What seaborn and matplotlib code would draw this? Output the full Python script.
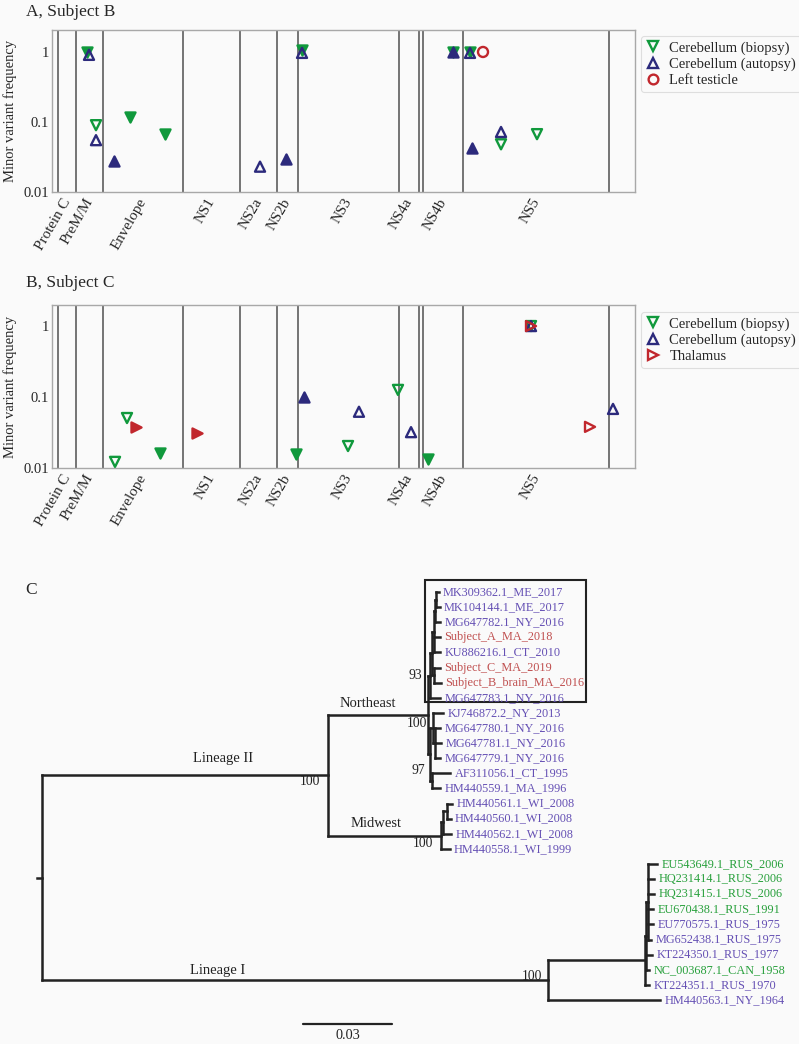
import matplotlib
matplotlib.use("Agg")
import matplotlib.pyplot as plt
import seaborn as sns
import pandas as pd
from matplotlib.lines import Line2D
from matplotlib.patches import Rectangle
from matplotlib.collections import LineCollection
from matplotlib.ticker import FixedLocator, NullLocator

sns.set_theme(style="white")
plt.rcParams["font.family"] = ["Liberation Serif", "DejaVu Serif"]

bg = "#fafafa"
green = "#10993c"
navy = "#2c2a7c"
red = "#c1272d"

# genome map (nt)
gene_names = ["Protein C", "PreM/M", "Envelope", "NS1", "NS2a", "NS2b", "NS3", "NS4a", "NS4b", "NS5"]
gene_starts = [110, 460, 965, 2470, 3545, 4245, 4640, 6545, 7000, 7755]
gene_ends = [460, 965, 2470, 3545, 4245, 4640, 6545, 6925, 7755, 10510]
boundaries = [110, 460, 965, 2470, 3545, 4245, 4640, 6545, 6925, 7000, 7755, 10510]
genome_len = 11000

# A, Subject B
b_bio_pos = [660, 830, 1472, 2132, 4717, 7566, 7887, 8472, 9151]
b_bio_freq = [1.0, 0.09, 0.118, 0.067, 1.06, 1.0, 1.0, 0.048, 0.067]
b_bio_filled = [1, 0, 1, 1, 1, 1, 1, 0, 0]
b_aut_pos = [698, 830, 1170, 3925, 4415, 4717, 7566, 7887, 7925, 8472]
b_aut_freq = [0.91, 0.055, 0.028, 0.023, 0.030, 0.97, 1.0, 0.97, 0.042, 0.072]
b_aut_filled = [0, 0, 1, 0, 1, 0, 1, 0, 1, 0]
b_tes_pos = [8132]
b_tes_freq = [1.0]
b_tes_filled = [0]

# B, Subject C
c_bio_pos = [1189, 1415, 2038, 4604, 5585, 6528, 7094, 9038]
c_bio_freq = [0.0122, 0.0506, 0.0163, 0.016, 0.0204, 0.126, 0.0134, 1.0]
c_bio_filled = [0, 0, 1, 1, 0, 0, 1, 0]
c_aut_pos = [4755, 5792, 6774, 9038, 10585]
c_aut_freq = [0.1, 0.062, 0.032, 1.0, 0.068]
c_aut_filled = [1, 0, 0, 0, 0]
c_thal_pos = [1585, 2736, 9038, 10151]
c_thal_freq = [0.038, 0.031, 1.0, 0.038]
c_thal_filled = [1, 1, 0, 0]

# C, tree
newick = (
    "((((((((MK309362.1_ME_2017:0.0010,MK104144.1_ME_2017:0.0013):0.0003,"
    "MG647782.1_NY_2016:0.0017):0.0003,Subject_A_MA_2018:0.0020,KU886216.1_CT_2010:0.0020):0.0007,"
    "(Subject_C_MA_2019:0.0020,Subject_B_brain_MA_2016:0.0024):0.0007):0.0007,"
    "MG647783.1_NY_2016:0.0034)93:0.0007,"
    "((KJ746872.2_NY_2013:0.0034,(MG647780.1_NY_2016:0.0017,MG647781.1_NY_2016:0.0020,"
    "MG647779.1_NY_2016:0.0017):0.0007):0.0010,"
    "(AF311056.1_CT_1995:0.0061,HM440559.1_MA_1996:0.0027):0.0007)97:0.0007)100:0.0337,"
    "(((HM440561.1_WI_2008:0.0017,HM440560.1_WI_2008:0.0013):0.0013,HM440562.1_WI_2008:0.0027):0.0007,"
    "HM440558.1_WI_1999:0.0030)100:0.0381)100:0.0964,"
    "((((EU543649.1_RUS_2006:0.0030,HQ231414.1_RUS_2006:0.0020,HQ231415.1_RUS_2006:0.0020,"
    "EU670438.1_RUS_1991:0.0017,EU770575.1_RUS_1975:0.0017,MG652438.1_RUS_1975:0.0010):0.0007,"
    "KT224350.1_RUS_1977:0.0020,NC_003687.1_CAN_1958:0.0010):0.0003,KT224351.1_RUS_1970:0.0013):0.0327,"
    "HM440563.1_NY_1964:0.0377)100:0.1706):0.0017;"
)
subject_tips = ["Subject_A_MA_2018", "Subject_C_MA_2019", "Subject_B_brain_MA_2016"]
green_tips = ["EU543649.1_RUS_2006", "HQ231414.1_RUS_2006", "HQ231415.1_RUS_2006",
              "EU670438.1_RUS_1991", "NC_003687.1_CAN_1958"]
clade_names = ["Lineage II", "Northeast", "Midwest", "Lineage I"]
scale_len = 0.03
label_nudge = 115  # gene labels sit a little right of the gene centre


def variant_panel(ax, series, legend_top, ylim_top):
    for pos, freq, filled, label, marker, color in series:
        df = pd.DataFrame({"pos": pos, "freq": freq, "filled": filled})
        for is_filled, sub in df.groupby("filled"):
            sns.scatterplot(data=sub, x="pos", y="freq", ax=ax, marker=marker, s=52,
                            color=color, facecolor=color if is_filled else "none",
                            edgecolor=color, linewidth=1.7, legend=False, zorder=3)
    for b in boundaries:
        ax.axvline(b, color="#505050", lw=1.1, zorder=1)
    ax.set_yscale("log")
    ax.set_ylim(0.01, ylim_top)
    ax.set_xlim(0, genome_len)
    ax.yaxis.set_major_locator(FixedLocator([0.01, 0.1, 1]))
    ax.set_yticklabels(["0.01", "0.1", "1"])
    ax.yaxis.set_minor_locator(NullLocator())
    mids = [(s + e) / 2 + label_nudge for s, e in zip(gene_starts, gene_ends)]
    ax.set_xticks(mids)
    ax.set_xticklabels(gene_names, rotation=60, ha="right", rotation_mode="default")
    ax.tick_params(axis="y", length=0, pad=2, labelsize=10.5)
    ax.tick_params(axis="x", length=0, pad=3, labelsize=10.8)
    ax.set_xlabel("")
    ax.set_ylabel("Minor variant frequency", fontsize=10.5, labelpad=5)
    ax.set_facecolor(bg)
    for sp in ax.spines.values():
        sp.set_color("#a8a8a8")
        sp.set_linewidth(1.0)
    handles = [Line2D([], [], ls="none", marker=m, ms=7, mfc="none", mec=c, mew=1.7, label=l)
               for _, _, _, l, m, c in series]
    leg = ax.legend(handles=handles, loc="upper left", bbox_to_anchor=(1.01, legend_top),
                    borderaxespad=0, fontsize=10.5, handlelength=1.0, handletextpad=0.6,
                    labelspacing=0.2, borderpad=0.35, frameon=True)
    leg.get_frame().set_edgecolor("#d8d8d8")
    leg.get_frame().set_facecolor(bg)
    leg.get_frame().set_linewidth(0.8)


def parse_newick(s):
    i = 0

    def node():
        nonlocal i
        n = {"children": [], "name": "", "len": 0.0}
        if s[i] == "(":
            i += 1
            while True:
                n["children"].append(node())
                if s[i] == ",":
                    i += 1
                    continue
                i += 1
                break
        j = i
        while s[i] not in ",():;":
            i += 1
        n["name"] = s[j:i]
        if s[i] == ":":
            i += 1
            j = i
            while s[i] not in ",();":
                i += 1
            n["len"] = float(s[j:i])
        return n

    return node()


tips = []


def layout(n, x0):
    n["x"] = x0 + n["len"]
    n["px"] = x0
    if not n["children"]:
        n["y"] = len(tips)
        tips.append(n)
    else:
        for ch in n["children"]:
            layout(ch, n["x"])
        n["y"] = (n["children"][0]["y"] + n["children"][-1]["y"]) / 2


def walk(n):
    yield n
    for ch in n["children"]:
        yield from walk(ch)


fig = plt.figure(figsize=(7.99, 10.44), dpi=100, facecolor=bg)
ax_a = fig.add_axes([52 / 799, 1 - 192 / 1044, 583 / 799, 162 / 1044])
ax_b = fig.add_axes([52 / 799, 1 - 468 / 1044, 583 / 799, 163 / 1044])
ax_c = fig.add_axes([0, 0, 1, 484 / 1044])

variant_panel(ax_a, [
    (b_bio_pos, b_bio_freq, b_bio_filled, "Cerebellum (biopsy)", "v", green),
    (b_aut_pos, b_aut_freq, b_aut_filled, "Cerebellum (autopsy)", "^", navy),
    (b_tes_pos, b_tes_freq, b_tes_filled, "Left testicle", "o", red),
], 0.963, 2.06)
variant_panel(ax_b, [
    (c_bio_pos, c_bio_freq, c_bio_filled, "Cerebellum (biopsy)", "v", green),
    (c_aut_pos, c_aut_freq, c_aut_filled, "Cerebellum (autopsy)", "^", navy),
    (c_thal_pos, c_thal_freq, c_thal_filled, "Thalamus", ">", red),
], 0.957, 1.98)

fig.text(26 / 799, 1 - 12 / 1044, "A, Subject B", fontsize=12.5, va="center", ha="left")
fig.text(26 / 799, 1 - 283 / 1044, "B, Subject C", fontsize=12.5, va="center", ha="left")
fig.text(25 / 799, 1 - 590 / 1044, "C", fontsize=12.5, va="center", ha="left")

# tree
tree = parse_newick(newick)
layout(tree, -tree["len"])
segs = []
for n in walk(tree):
    segs.append([(n["px"], n["y"]), (n["x"], n["y"])])
    if n["children"]:
        segs.append([(n["x"], n["children"][0]["y"]), (n["x"], n["children"][-1]["y"])])
ax_c.add_collection(LineCollection(segs, colors="#222222", linewidths=1.8, capstyle="projecting"))

for t in tips:
    col = "#c05050" if t["name"] in subject_tips else ("#28a03c" if t["name"] in green_tips else "#6550b4")
    ax_c.annotate(t["name"], (t["x"], t["y"]), xytext=(3, 0), textcoords="offset points",
                  va="center", ha="left", fontsize=8.8, color=col)

support_offsets = [(-5.8, -4.3), (-0.7, -5.8), (-5.8, 0), (-3.6, -11.5), (-5.8, -5.4), (-4.3, 2.9)]
clade_frac = [0.633, 0.395, 0.425, 0.346]
clade_rise = [12.0, 8.0, 8.6, 7.2]
labelled = [n for n in walk(tree) if n["children"] and n["name"]]
for n, off in zip(labelled, support_offsets):
    ax_c.annotate(n["name"], (n["x"], n["y"]), xytext=off, textcoords="offset points",
                  ha="right", va="center", fontsize=9.8, color="#222222")
named = [n for n in labelled if n["name"] == "100" and n["len"] > 0.02]
for n, name, fr, rise in zip(named, clade_names, clade_frac, clade_rise):
    xc = n["px"] + fr * (n["x"] - n["px"])
    ax_c.annotate(name, (xc, n["y"]), xytext=(0, rise), textcoords="offset points",
                  ha="center", va="center", fontsize=10.5, color="#222222")

boxed = [n for n in labelled if n["name"] == "93"][0]
box_tips = [t for t in walk(boxed) if not t["children"]]
y0 = box_tips[0]["y"] - 0.8
y1 = box_tips[-1]["y"] + 0.28
ax_c.add_patch(Rectangle((boxed["x"] - 0.0017, y0), 0.0542, y1 - y0, fill=False,
                         edgecolor="#222222", lw=1.5))

sb_x = 0.088
sb_y = len(tips) + 0.6
ax_c.plot([sb_x, sb_x + scale_len], [sb_y, sb_y], color="#222222", lw=1.6)
ax_c.annotate(f"{scale_len:g}", (sb_x + scale_len / 2, sb_y), xytext=(0, -8), textcoords="offset points",
              ha="center", va="center", fontsize=10.3, color="#222222")

ax_c.set_xlim(-42 / 2967, 757 / 2967)
ax_c.set_ylim((1044 - 592) / 15.11, (560 - 592) / 15.11)
ax_c.axis("off")
ax_c.set_facecolor(bg)

fig.savefig("out.png", dpi=100, facecolor=bg)
